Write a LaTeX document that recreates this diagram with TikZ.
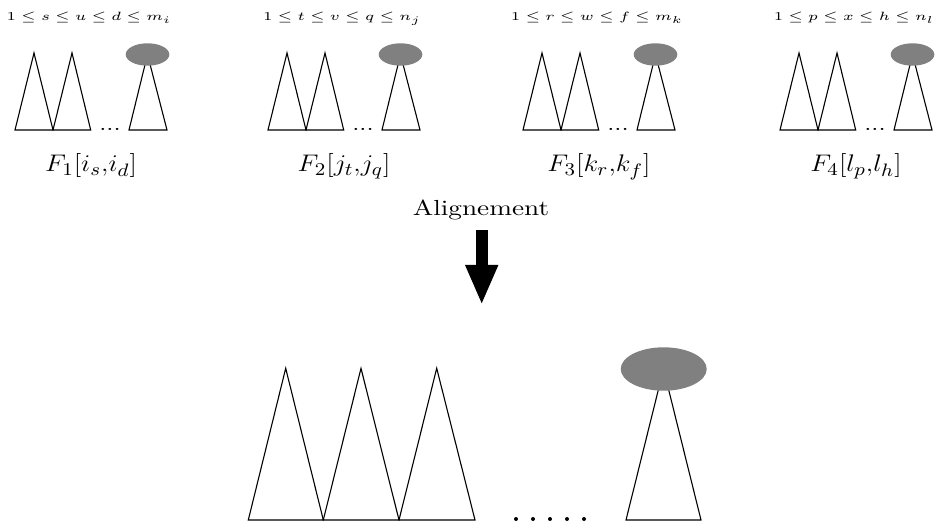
\documentclass[tikz,border=0pt]{standalone}
\usetikzlibrary{arrows.meta}
\definecolor{blobgray}{RGB}{128,128,128}
\newcommand{\wide}[2][1.28]{\scalebox{#1}[1]{#2}}
\newcommand{\rsp}{\hspace{2pt}}
\newcommand{\rlab}[5]{$#1$\rsp$\leq$\rsp$#2$\rsp$\leq$\rsp$#3$\rsp$\leq$\rsp$#4$\rsp$\leq$\rsp$#5$}
\begin{document}
\begin{tikzpicture}[x=0.5pt,y=-0.5pt,
  tri/.style={draw=black,line width=0.55pt,line join=miter},
  blob/.style={fill=blobgray,draw=none},
  flabel/.style={anchor=base,inner sep=0pt,font=\fontsize{12.2}{14}\selectfont},
  dotlabel/.style={anchor=base,inner sep=0pt,font=\fontsize{10}{12}\selectfont},
  alabel/.style={anchor=base,inner sep=0pt,font=\fontsize{10.9}{13}\selectfont},
  rangelabel/.style={anchor=base,inner sep=0pt,font=\fontsize{6}{7}\selectfont},
  dotdot/.style={circle,fill=black,inner sep=0pt,minimum size=2pt}]
\useasboundingbox (0,0) rectangle (935,523);
% small forests
\foreach \o/\i/\rng/\lab in {0/1/{\rlab{1}{s}{u}{d}{m_i}}/{F_1[i_s{,}i_d]},
  253/2/{\rlab{1}{t}{v}{q}{n_j}}/{F_2[j_t{,}j_q]},
  508/3/{\rlab{1}{r}{w}{f}{m_k}}/{F_3[k_r{,}k_f]},
  765/4/{\rlab{1}{p}{x}{h}{n_l}}/{F_4[l_p{,}l_h]}}{
  \begin{scope}[shift={(\o,0)}]
    \draw[tri] (15,130) -- (34,53) -- (53,130) -- cycle;
    \draw[tri] (53,130) -- (72,53) -- (90.7,130) -- cycle;
    \draw[tri] (129,130) -- (147.5,54.5) -- (167,130) -- cycle;
    \fill[blob] (147.5,54.5) ellipse [x radius=21.8, y radius=11.2];
    \node[dotlabel] (dots\i) at (110,130.5) {\wide{...}};
    \node[flabel] (F\i) at (91,172) {\wide[1.13]{$\lab$}};
    \node[rangelabel] (R\i) at (89,21) {\wide{\rng}};
  \end{scope}
}
% alignment arrow
\node[alabel] (align) at (481,215.5) {\wide[1.25]{Alignement}};
\coordinate (a1) at (481.7,230.5);
\coordinate (a2) at (481.7,305);
\draw[line width=6pt,-{Triangle[width=15pt,length=20pt]}] (a1) -- (a2);
% big forest
\draw[tri] (248.3,520) -- (285.7,368.3) -- (323.3,520) -- cycle;
\draw[tri] (323.3,520) -- (361,368.3) -- (399,520) -- cycle;
\draw[tri] (399,520) -- (436.7,368.3) -- (475,520) -- cycle;
\draw[tri] (626,520) -- (663.5,369) -- (701,520) -- cycle;
\fill[blob] (663.7,369) ellipse [x radius=43, y radius=21.7];
\foreach \x [count=\k] in {516,533,550,567,584}
  \node[dotdot] (bd\k) at (\x,519) {};
\end{tikzpicture}
\end{document}
